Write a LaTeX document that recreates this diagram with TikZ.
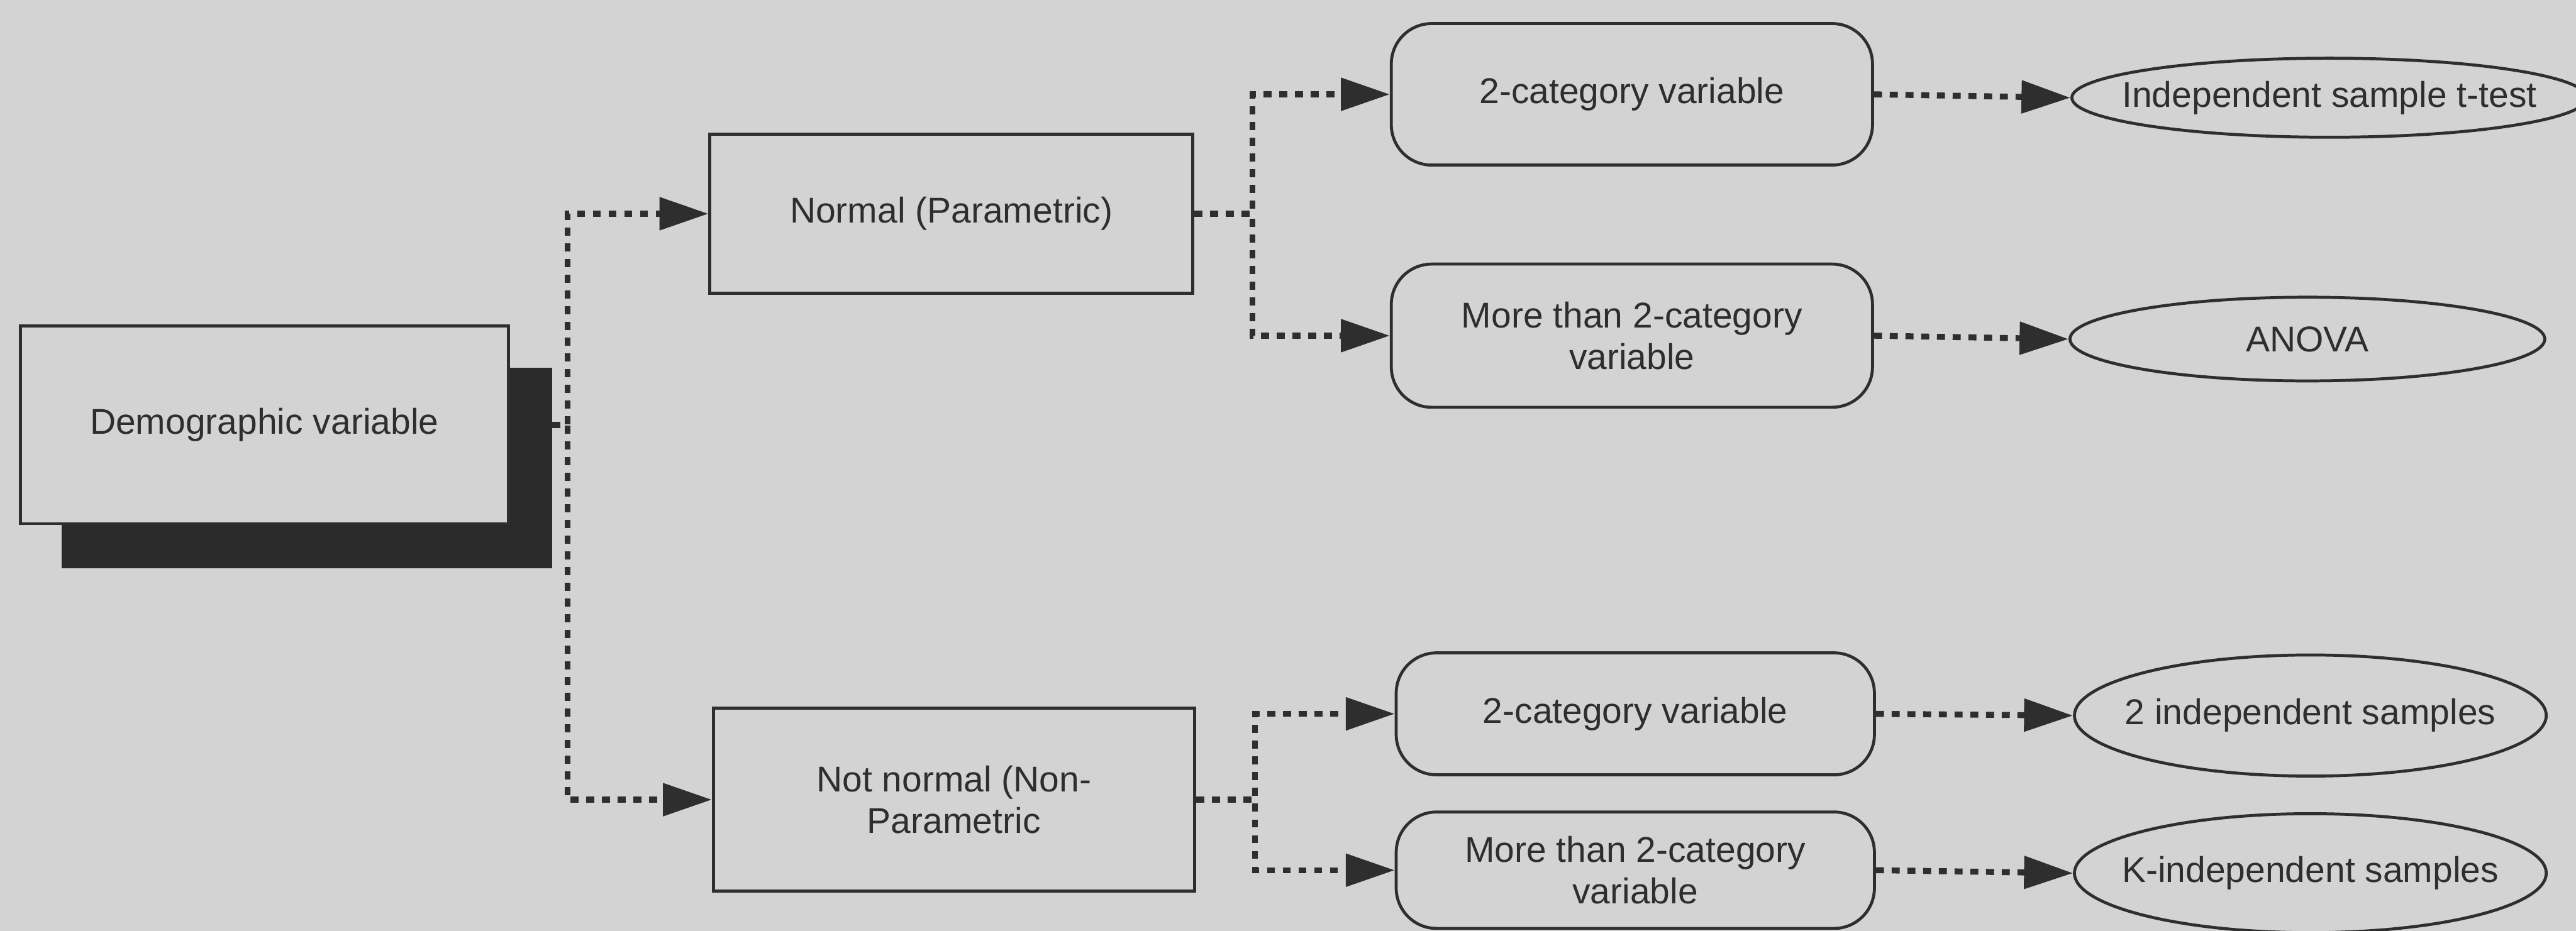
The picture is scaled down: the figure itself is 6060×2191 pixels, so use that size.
\documentclass[tikz,border=0pt]{standalone}
\usepackage{fontspec}
\setmainfont{Liberation Sans}
\usetikzlibrary{arrows.meta,shapes.geometric}
\definecolor{paper}{HTML}{D3D3D3}
\definecolor{ink}{HTML}{2E2E2E}
\definecolor{shade}{HTML}{2A2A2A}
% zero-width box so that ellipse size comes only from its minimum size
\newcommand{\slim}[1]{\makebox[0pt][c]{#1}}

\begin{document}
\begin{tikzpicture}[x=0.1mm, y=-0.1mm,
  every node/.style={font=\fontsize{24pt}{28pt}\selectfont, text=ink},
  plainbox/.style={draw=ink, line width=0.7mm, fill=paper, inner sep=0pt, align=center},
  roundbox/.style={plainbox, rounded corners=9.5mm},
  oval/.style={ellipse, draw=ink, line width=0.7mm, fill=paper, inner sep=0pt},
  link/.style={draw=ink, line width=1.4mm, dash pattern=on 1.9mm off 1.8mm},
  conn/.style={link, -{Triangle[length=11.5mm,width=7.5mm]}}
]
\useasboundingbox (0,0) rectangle (6060,2191);
\fill[paper] (0,0) rectangle (6060,2191);

% root box with its solid shadow
\node[plainbox, fill=shade, draw=shade, minimum width=114.8mm, minimum height=46.5mm] (demshadow) at (722,1102) {};
\node[plainbox, minimum width=114.8mm, minimum height=46.5mm] (dem) at (622,1000) {Demographic variable};

% distribution type
\node[plainbox, minimum width=113.6mm, minimum height=37.4mm] (normal) at (2238,503) {Normal (Parametric)};
\node[plainbox, minimum width=113.2mm, minimum height=43mm] (notnormal) at (2244,1882) {Not normal (Non-\\Parametric};

% variable categories
\node[roundbox, minimum width=113.2mm, minimum height=33.3mm] (cat2a) at (3839,222) {2-category variable};
\node[roundbox, minimum width=113.2mm, minimum height=33.7mm] (moreA) at (3839,790) {More than 2-category\\variable};
\node[roundbox, minimum width=112.5mm, minimum height=28.7mm] (cat2b) at (3847,1680) {2-category variable};
\node[roundbox, minimum width=112.5mm, minimum height=27.4mm] (moreB) at (3847,2048) {More than 2-category\\variable};

% tests
\node[oval, minimum width=121.2mm, minimum height=18.6mm] (ttest) at (5480,230) {\slim{Independent sample t-test}};
\node[oval, minimum width=111.7mm, minimum height=19.7mm] (anova) at (5428,798) {\slim{ANOVA}};
\node[oval, minimum width=111mm, minimum height=28.5mm] (indep2) at (5435,1684) {\slim{2 independent samples}};
\node[oval, minimum width=111mm, minimum height=28mm] (kindep) at (5435,2055) {\slim{K-independent samples}};

% junction columns
\coordinate (j1) at (1335,0);
\coordinate (j2) at (2946,0);
\coordinate (j3) at (2952,0);

\draw[conn] (demshadow.east |- dem.center) -- (j1 |- dem.center) |- (normal.west);
\draw[conn] (demshadow.east |- dem.center) -- (j1 |- dem.center) |- (notnormal.west);

\draw[conn] (normal.east) -- (j2 |- normal.east) |- (cat2a.west);
\draw[conn] (normal.east) -- (j2 |- normal.east) |- (moreA.west);
\draw[conn] (notnormal.east) -- (j3 |- notnormal.east) |- (cat2b.west);
\draw[conn] (notnormal.east) -- (j3 |- notnormal.east) |- (moreB.west);

\draw[conn] (cat2a.east) -- (ttest.west);
\draw[conn] (moreA.east) -- (anova.west);
\draw[conn] (cat2b.east) -- (indep2.west);
\draw[conn] (moreB.east) -- (kindep.west);
\end{tikzpicture}
\end{document}
